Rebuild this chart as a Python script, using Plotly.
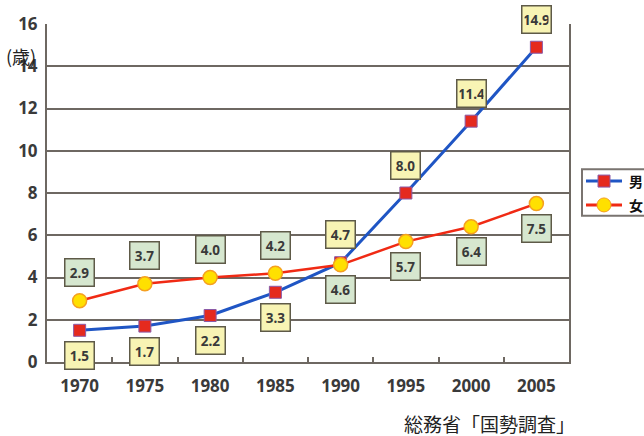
import plotly.graph_objects as go

years = ["1970", "1975", "1980", "1985", "1990", "1995", "2000", "2005"]
male = [1.5, 1.7, 2.2, 3.3, 4.7, 8.0, 11.4, 14.9]
female = [2.9, 3.7, 4.0, 4.2, 4.6, 5.7, 6.4, 7.5]
male_label_side = [-1, -1, -1, -1, 1, 1, 1, 1]
female_label_side = [1, 1, 1, 1, -1, -1, -1, -1]
y_ticks = [0, 2, 4, 6, 8, 10, 12, 14, 16]

FONT = "Noto Sans"
CJK = "Noto Sans CJK JP"
GRID = "#6e6862"
MALE_LINE = "#1f55c4"
FEMALE_LINE = "#f02a14"
MALE_MK = "#e52a1e"
FEMALE_MK = "#ffe000"

# plot area in pixels
L, R, T, B = 47, 569, 22, 362
PW, PH = R - L, B - T


def px(xp):
    return (xp - L) / PW


def py(yp):
    return (B - yp) / PH


fig = go.Figure()
fig.add_trace(go.Scatter(
    x=years, y=male, name="男", mode="lines+markers", showlegend=False,
    line=dict(color=MALE_LINE, width=3),
    marker=dict(symbol="square", size=12, color=MALE_MK,
                line=dict(color="#8a5aa8", width=1)),
))
fig.add_trace(go.Scatter(
    x=years, y=female, name="女", mode="lines+markers", showlegend=False,
    line=dict(color=FEMALE_LINE, width=2.5),
    marker=dict(symbol="circle", size=14, color=FEMALE_MK,
                line=dict(color="#f5a020", width=1.5)),
))

anns = []


def label(i, v, s, bg):
    return dict(x=i, y=v, xref="x", yref="y", text=f"<b>{v:.1f}</b>", showarrow=False,
                yshift=(28 if s > 0 else -25), bgcolor=bg, bordercolor="#5e5a48",
                borderwidth=1.5, borderpad=2, width=24, height=22,
                font=dict(family=FONT, size=13.5, color="#3a3a3a"))


for i, (v, s) in enumerate(zip(male, male_label_side)):
    anns.append(label(i, v, s, "#f8f4b4"))
for i, (v, s) in enumerate(zip(female, female_label_side)):
    anns.append(label(i, v, s, "#d6e7cf"))

anns.append(dict(x=px(21), y=py(54), xref="paper", yref="paper", text="(歳)",
                 showarrow=False, xanchor="center", yanchor="middle",
                 font=dict(family=CJK, size=18, color="#222222")))
anns.append(dict(x=px(577), y=py(424), xref="paper", yref="paper",
                 text="総務省「国勢調査」", showarrow=False, xanchor="right",
                 yanchor="middle", font=dict(family=CJK, size=19, color="#222222")))

# manual legend (box partly cut off at the right edge, as in the reference)
shapes = [dict(type="rect", xref="paper", yref="paper", x0=px(582), x1=px(660),
               y0=py(215), y1=py(168), line=dict(color="#7a7470", width=2),
               fillcolor="white", layer="above")]
legend_items = [("男", py(180), MALE_LINE, "square", MALE_MK, "#8a5aa8"),
                ("女", py(204), FEMALE_LINE, "circle", FEMALE_MK, "#f5a020")]
for name, yy, lc, sym, mc, mlc in legend_items:
    shapes.append(dict(type="line", xref="paper", yref="paper", x0=px(586), x1=px(622),
                       y0=yy, y1=yy, line=dict(color=lc, width=3), layer="above"))
    shp = dict(type=("rect" if sym == "square" else "circle"), xref="paper", yref="paper",
               xsizemode="pixel", ysizemode="pixel", xanchor=px(604), yanchor=yy,
               fillcolor=mc, line=dict(color=mlc, width=1), layer="above")
    if sym == "square":
        shp.update(x0=-6, x1=6, y0=-6, y1=6)
    else:
        shp.update(x0=-7, x1=7, y0=-7, y1=7)
    shapes.append(shp)
    anns.append(dict(x=px(627), y=yy, xref="paper", yref="paper", text=f"<b>{name}</b>",
                     showarrow=False, xanchor="left", yanchor="middle",
                     font=dict(family=CJK, size=14, color="#111111")))

fig.update_layout(annotations=anns, shapes=shapes)

fig.update_xaxes(
    type="category", range=[-0.5, 7.5], showgrid=False,
    showline=True, linecolor=GRID, linewidth=2,
    ticks="inside", tickson="boundaries", ticklen=5, tickcolor=GRID, tickwidth=2,
    tickfont=dict(family=FONT, size=17, color="#3a3a3a", weight="bold"),
    ticklabelstandoff=8,
)
fig.update_yaxes(
    range=[0, 16], tickvals=y_ticks, showgrid=True, gridcolor=GRID, gridwidth=1.5,
    showline=True, linecolor=GRID, linewidth=2, mirror=True, zeroline=False,
    ticks="", tickfont=dict(family=FONT, size=17, color="#3a3a3a", weight="bold"),
    ticklabelstandoff=4,
)

fig.update_layout(
    width=644, height=436,
    margin=dict(l=L, r=644 - R, t=T, b=436 - B),
    paper_bgcolor="white", plot_bgcolor="white",
    showlegend=False,
)

fig.write_html("out.html")
